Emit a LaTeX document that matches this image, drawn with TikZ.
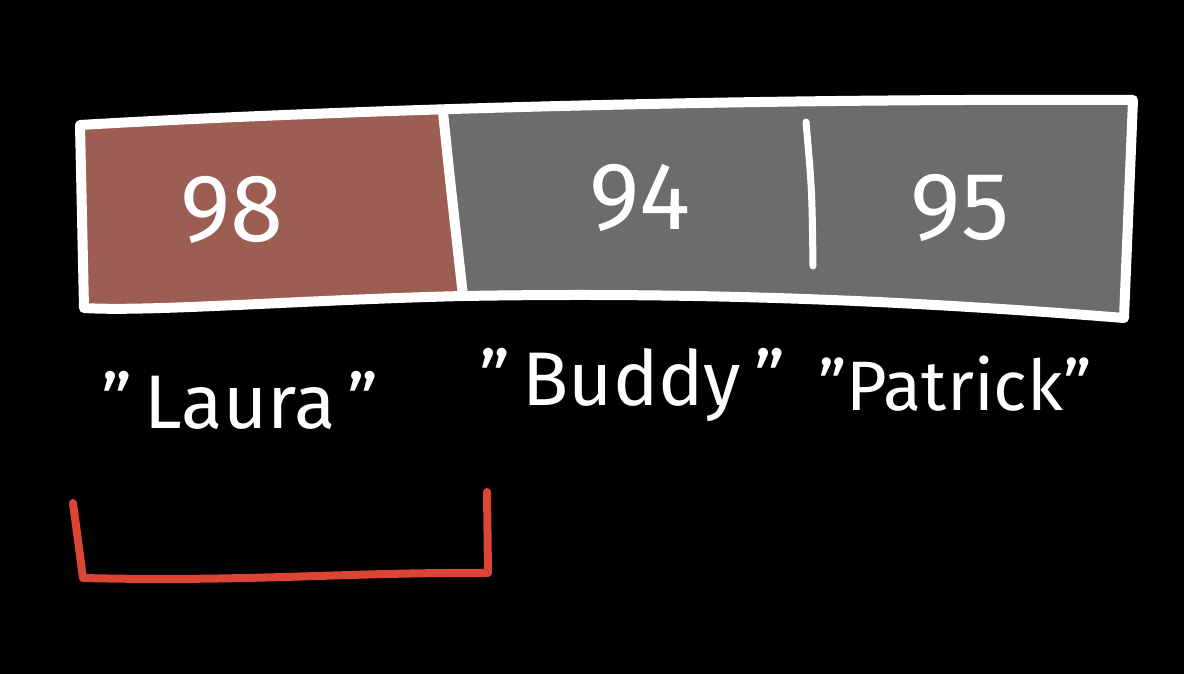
\documentclass[tikz,border=0pt]{standalone}
\usepackage{fontspec}
\setmainfont{Fira Sans}
\definecolor{cellred}{HTML}{9C5D53}
\definecolor{cellgray}{HTML}{6C6C6C}
\definecolor{brk}{HTML}{DC4535}
\newcommand{\qq}{\symbol{34}}
\begin{document}
\begin{tikzpicture}[x=1pt,y=-1pt,
  outline/.style={draw=white,line width=10pt,line join=round,line cap=round},
  num/.style={text=white,font=\fontsize{96}{96}\selectfont},
  lbl/.style={text=white,font=\fontsize{76}{80}\selectfont}]
\fill[black] (0,0) rectangle (1184,674);
\useasboundingbox (0,0) rectangle (1184,674);
% fills
\fill[cellred] (80,125) -- (443,112) .. controls (450,180) .. (463,296) -- (84,308) -- cycle;
\fill[cellgray] (443,112) -- (1133,100) -- (1124,318) .. controls (900,300) and (700,292) .. (463,296) .. controls (450,180) .. (443,112) -- cycle;
% outline
\draw[outline] (80,125) .. controls (300,112) and (700,98) .. (1133,100) -- (1124,318)
  .. controls (900,300) and (700,292) .. (463,296) .. controls (300,300) and (150,312) .. (84,308) -- cycle;
\draw[outline] (443,112) .. controls (450,180) .. (463,296);
\coordinate (d1) at (806,122);
\coordinate (d2) at (813,266);
\draw[outline,line width=7pt] (d1) .. controls (812,190) .. (d2);
% numbers
\node[num] (n98) at (232,210) {98};
\node[num] (n94) at (640,198) {94};
\node[num] (n95) at (960,208) {95};
% labels
\node[lbl] (laura) at (240,400) {\qq\,Laura\,\qq};
\node[lbl] (buddy) at (632,385) {\qq\,Buddy\,\qq};
\node[lbl,font=\fontsize{70}{74}\selectfont] (patrick) at (955,384) {\qq Patrick\qq};
% bracket
\coordinate (b1) at (73,503);
\coordinate (b2) at (83,578);
\coordinate (b3) at (488,573);
\coordinate (b4) at (487,492);
\draw[draw=brk,line width=8pt,line join=round,line cap=round] (b1) -- (b2) .. controls (250,582) and (350,572) .. (b3) -- (b4);
\end{tikzpicture}
\end{document}
